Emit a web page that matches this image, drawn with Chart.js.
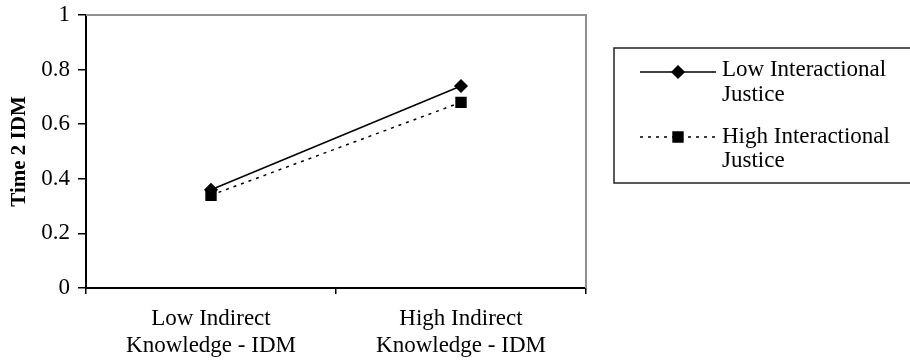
<!DOCTYPE html>
<html>
<head>
<meta charset="utf-8">
<script src="https://cdn.jsdelivr.net/npm/chart.js@4/dist/chart.umd.min.js"></script>
<style>
  html, body { margin: 0; padding: 0; background: #fff; }
  #wrap { width: 910px; height: 362px; }
</style>
</head>
<body>
<div id="wrap"><canvas id="myChart" width="910" height="362"></canvas></div>
<script>
// categories (each split over two lines) and the two series
const categories = [["Low Indirect", "Knowledge - IDM"], ["High Indirect", "Knowledge - IDM"]];
const lowJustice = [0.36, 0.74];
const highJustice = [0.34, 0.68];
const seriesNames = [["Low Interactional", "Justice"], ["High Interactional", "Justice"]];
const yTitle = "Time 2 IDM";

const serif = "'Liberation Serif', 'Times New Roman', serif";

// grey frame on top/right of the plot, and the boxed legend on the right
const framePlugin = {
  id: 'frameAndLegend',
  afterDraw(chart) {
    const ctx = chart.ctx;
    const a = chart.chartArea;
    ctx.save();
    ctx.strokeStyle = '#8f8f8f';
    ctx.lineWidth = 2;
    ctx.beginPath();
    ctx.moveTo(a.left, a.top);
    ctx.lineTo(a.right, a.top);
    ctx.lineTo(a.right, a.bottom);
    ctx.stroke();

    // legend box
    ctx.strokeStyle = '#222';
    ctx.lineWidth = 1.5;
    ctx.strokeRect(614, 48, 320, 135);

    const rows = [{ line: 72, text: [70, 95] }, { line: 137, text: [137, 161] }];
    chart.data.datasets.forEach((ds, i) => {
      const r = rows[i];
      ctx.strokeStyle = '#000';
      ctx.lineWidth = 1.5;
      ctx.setLineDash(ds.borderDash || []);
      ctx.beginPath();
      ctx.moveTo(640, r.line);
      ctx.lineTo(716, r.line);
      ctx.stroke();
      ctx.setLineDash([]);
      Chart.helpers.drawPoint(ctx, { pointStyle: ds.pointStyle, radius: ds.pointRadius, borderWidth: 1 }, 678, r.line);
      ctx.fillStyle = '#000';
      ctx.fill();
      ctx.font = "23px " + serif;
      ctx.textAlign = 'left';
      ctx.textBaseline = 'middle';
      ds.legendLines.forEach((t, j) => ctx.fillText(t, 722, r.text[j]));
    });
    ctx.restore();
  }
};

new Chart(document.getElementById("myChart"), {
  type: 'line',
  data: {
    labels: categories,
    datasets: [{
      label: seriesNames[0].join(' '),
      legendLines: seriesNames[0],
      data: lowJustice,
      borderColor: '#000',
      backgroundColor: '#000',
      borderWidth: 1.5,
      pointStyle: 'rectRot',
      pointRadius: 6,
      pointBackgroundColor: '#000',
      pointBorderColor: '#000',
      fill: false,
      tension: 0
    }, {
      label: seriesNames[1].join(' '),
      legendLines: seriesNames[1],
      data: highJustice,
      borderColor: '#000',
      backgroundColor: '#000',
      borderWidth: 1.5,
      borderDash: [3, 5],
      pointStyle: 'rect',
      pointRadius: 7,
      pointBackgroundColor: '#000',
      pointBorderColor: '#000',
      fill: false,
      tension: 0
    }]
  },
  options: {
    responsive: false,
    animation: false,
    devicePixelRatio: 1,
    layout: { padding: { top: 15, right: 324, bottom: 0, left: 0 } },
    plugins: {
      legend: { display: false },
      tooltip: { enabled: false }
    },
    scales: {
      x: {
        offset: true,
        afterFit(scale) { scale.height = 74; },
        border: { display: true, color: '#000', width: 2 },
        grid: { offset: true, drawOnChartArea: false, drawTicks: true, tickLength: 6, color: '#000', lineWidth: 1.5 },
        ticks: { color: '#000', padding: 11, maxRotation: 0, font: { family: serif, size: 23 } }
      },
      y: {
        min: 0,
        max: 1,
        afterFit(scale) {
          scale.width = 86;
          scale.paddingTop = 0;
          scale.paddingBottom = 0;
        },
        border: { display: true, color: '#000', width: 2 },
        grid: { drawOnChartArea: false, drawTicks: true, tickLength: 8, color: '#000', lineWidth: 1.5 },
        ticks: {
          stepSize: 0.2,
          color: '#000',
          padding: 8,
          font: { family: serif, size: 23 },
          callback: (v) => String(Math.round(v * 10) / 10)
        },
        title: {
          display: true,
          text: yTitle,
          color: '#000',
          padding: { top: 7, bottom: 0 },
          font: { family: serif, size: 21, weight: 'bold' }
        }
      }
    }
  },
  plugins: [framePlugin]
});
</script>
</body>
</html>
